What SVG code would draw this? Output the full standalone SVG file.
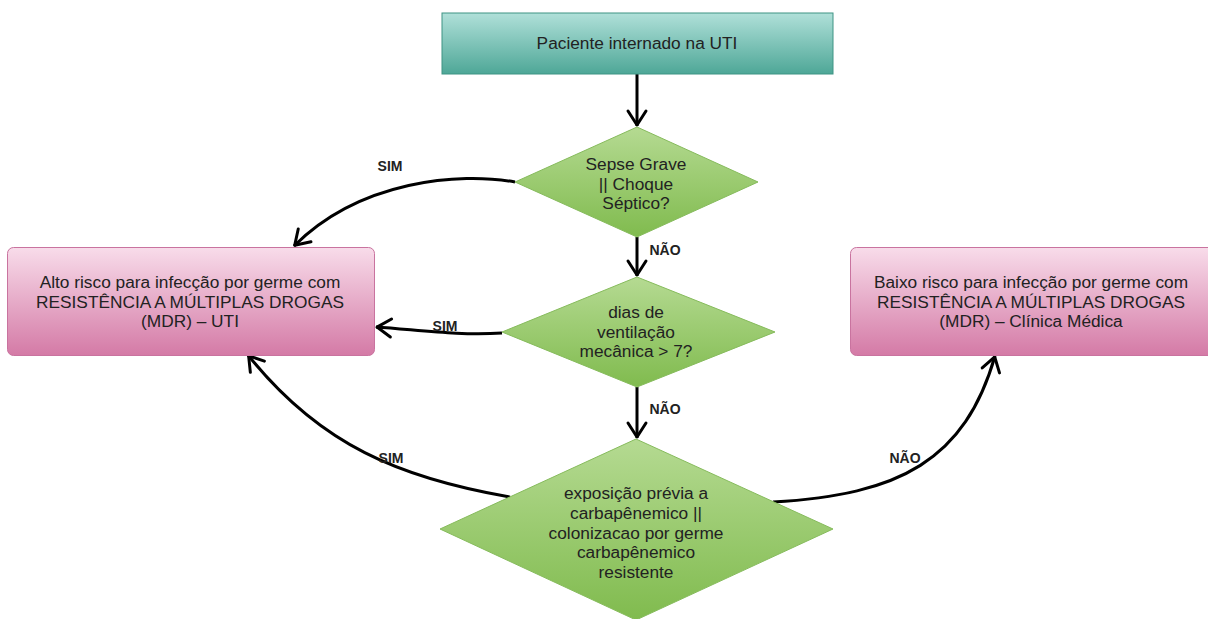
<svg xmlns="http://www.w3.org/2000/svg" width="1208" height="619" viewBox="0 0 1208 619">
<defs>
<linearGradient id="gTeal" x1="0" y1="0" x2="0" y2="1"><stop offset="0" stop-color="#b0e0d9"/><stop offset="1" stop-color="#4ea797"/></linearGradient>
<linearGradient id="gGreen" x1="0" y1="0" x2="0" y2="1"><stop offset="0" stop-color="#b5da92"/><stop offset="1" stop-color="#80bb4e"/></linearGradient>
<linearGradient id="gPink" x1="0" y1="0" x2="0" y2="1"><stop offset="0" stop-color="#f8dcea"/><stop offset="1" stop-color="#d47aa6"/></linearGradient>
<marker id="arr" markerUnits="userSpaceOnUse" markerWidth="30" markerHeight="30" refX="1" refY="0" orient="auto" overflow="visible">
<path d="M-14,-9 L0,0 L-14,9" fill="none" stroke="#000" stroke-width="3" stroke-linecap="round" stroke-linejoin="round"/>
</marker>
<style>
.t{font-family:"Liberation Sans",Arial,sans-serif;font-size:17.3px;fill:#222;text-anchor:middle}
.l{font-family:"Liberation Sans",Arial,sans-serif;font-size:14px;font-weight:bold;fill:#222;text-anchor:middle}
.c{fill:none;stroke:#000;stroke-width:3;marker-end:url(#arr)}
.dia{fill:url(#gGreen);stroke:#86bb5c;stroke-width:1}
.box{fill:url(#gPink);stroke:#c9739f;stroke-width:1}
</style>
</defs>
<rect width="1208" height="619" fill="#fff"/>
<g id="connectors">
<path class="c" d="M637,74 L637,126"/>
<path class="c" d="M515,182 C460,172 360,180 294,246"/>
<path class="c" d="M637,237 L637,276"/>
<path class="c" d="M502,333 C460,336 420,330 376,327"/>
<path class="c" d="M637,387 L637,438"/>
<path class="c" d="M510,497 C400,478 320,445 248,355"/>
<path class="c" d="M773,502 C900,495 965,460 995,356"/>
</g>
<g id="labels">
<text class="l" x="390" y="171">SIM</text>
<text class="l" x="665" y="255">NÃO</text>
<text class="l" x="445" y="331">SIM</text>
<text class="l" x="665" y="414">NÃO</text>
<text class="l" x="391" y="463">SIM</text>
<text class="l" x="905" y="463">NÃO</text>
</g>
<g id="start">
<rect x="442" y="13" width="391" height="61" fill="url(#gTeal)" stroke="#3f9484" stroke-width="1"/>
<text class="t" x="637" y="49">Paciente internado na UTI</text>
</g>
<g id="d1">
<polygon class="dia" points="637,127 758,182 637,237 515,182"/>
<text class="t" x="636" y="170">Sepse Grave</text>
<text class="t" x="636" y="189.5">|| Choque</text>
<text class="t" x="636" y="209">Séptico?</text>
</g>
<g id="d2">
<polygon class="dia" points="637,277 775,332 637,387 502,332"/>
<text class="t" x="636" y="318">dias de</text>
<text class="t" x="636" y="337.5">ventilação</text>
<text class="t" x="636" y="357">mecânica &gt; 7?</text>
</g>
<g id="d3">
<polygon class="dia" points="636,439 833,529 636,620 440,529"/>
<text class="t" x="636" y="499">exposição prévia a</text>
<text class="t" x="636" y="519">carbapênemico ||</text>
<text class="t" x="636" y="538.5">colonizacao por germe</text>
<text class="t" x="636" y="558">carbapênemico</text>
<text class="t" x="636" y="578">resistente</text>
</g>
<g id="alto">
<rect class="box" x="7.5" y="247.5" width="367" height="108" rx="6"/>
<text class="t" x="190" y="288">Alto risco para infecção por germe com</text>
<text class="t" x="190" y="308">RESISTÊNCIA A MÚLTIPLAS DROGAS</text>
<text class="t" x="190" y="327">(MDR) – UTI</text>
</g>
<g id="baixo">
<rect class="box" x="850.5" y="247.5" width="365" height="108" rx="6"/>
<text class="t" x="1031" y="288">Baixo risco para infecção por germe com</text>
<text class="t" x="1031" y="308">RESISTÊNCIA A MÚLTIPLAS DROGAS</text>
<text class="t" x="1031" y="327">(MDR) – Clínica Médica</text>
</g>
</svg>
